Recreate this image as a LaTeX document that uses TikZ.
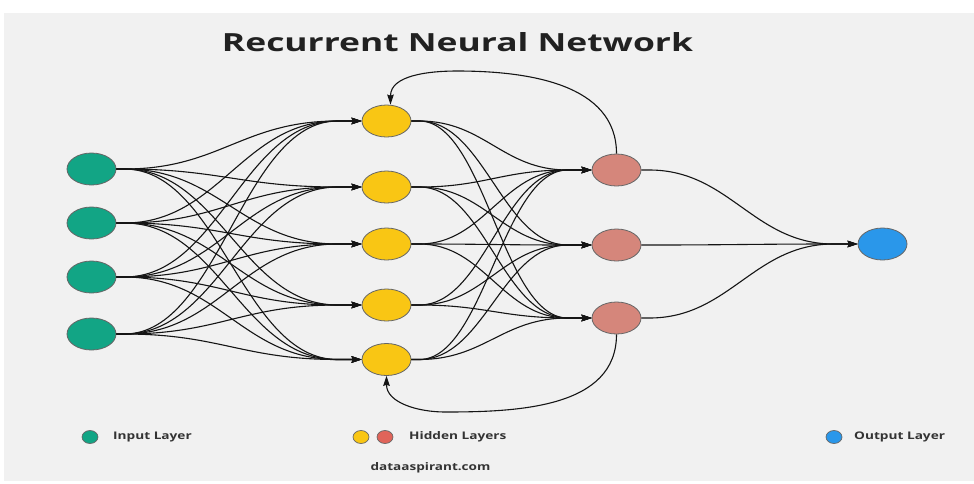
\documentclass[tikz,border=0pt]{standalone}
\usepackage{fontspec}
\setmainfont{Open Sans}
\usetikzlibrary{shapes.geometric,arrows.meta,calc}
\definecolor{bg}{HTML}{F1F1F1}
\definecolor{ingreen}{HTML}{12A585}
\definecolor{hyellow}{HTML}{F9C614}
\definecolor{hred}{HTML}{D5867B}
\definecolor{legred}{HTML}{E0645A}
\definecolor{outblue}{HTML}{2A97EA}
\definecolor{edgecol}{HTML}{151515}
\definecolor{txt}{HTML}{333333}
\newcommand\curveedge[3]{\draw[edge] (#1.east) -- ++(8,0) .. controls +(#3,0) and +(-#3,0) .. ($(#2.west)+(-24,0)$) -- (#2.west);}
\newcommand\wide[2]{\scalebox{#1}[1]{#2}}
\begin{document}
\begin{tikzpicture}[x=1pt,y=-1pt,
 neuron/.style={ellipse, draw=black!60, line width=0.8pt, minimum width=49pt, minimum height=32pt, inner sep=0pt},
 legdot/.style={ellipse, draw=black!60, line width=0.7pt, minimum width=16pt, minimum height=13pt, inner sep=0pt},
 edge/.style={draw=edgecol, line width=1.1pt, -{Stealth[length=10pt,width=6.5pt,inset=1pt]}},
 legtxt/.style={font=\bfseries\fontsize{10.5}{12}\selectfont, text=txt, anchor=west, inner sep=0pt}]
\useasboundingbox (0,0) rectangle (974,483);
\fill[white] (0,0) rectangle (974,483);
\fill[bg] (4,13) rectangle (974,481);

\node[font=\bfseries\fontsize{25}{30}\selectfont, text=black!87] (title) at (457.5,42) {\resizebox{471pt}{\height}{Recurrent Neural Network}};

\node[neuron, fill=ingreen] (i1) at (91.5,169) {};
\node[neuron, fill=ingreen] (i2) at (91.5,223) {};
\node[neuron, fill=ingreen] (i3) at (91.5,277) {};
\node[neuron, fill=ingreen] (i4) at (91.5,334) {};

\node[neuron, fill=hyellow] (h1) at (386.5,121) {};
\node[neuron, fill=hyellow] (h2) at (386.5,187) {};
\node[neuron, fill=hyellow] (h3) at (386.5,244) {};
\node[neuron, fill=hyellow] (h4) at (386.5,305) {};
\node[neuron, fill=hyellow] (h5) at (386.5,359.5) {};

\node[neuron, fill=hred] (r1) at (616.5,170) {};
\node[neuron, fill=hred] (r2) at (616.5,245) {};
\node[neuron, fill=hred] (r3) at (616.5,318) {};

\node[neuron, fill=outblue] (o) at (882.5,244) {};

\foreach \i in {1,...,4}{
  \foreach \h in {1,...,5}{
    \curveedge{i\i}{h\h}{95}
  }
}
\foreach \h in {1,...,5}{
  \foreach \r in {1,...,3}{
    \curveedge{h\h}{r\r}{65}
  }
}
\foreach \r in {1,...,3}{
  \curveedge{r\r}{o}{80}
}

\coordinate (topc) at (457,71);
\coordinate (botc) at (445,412);
\draw[edge] (r1.north) to[out=90,in=0] (topc) to[out=180,in=90] ($(h1.north)+(4,0)$);
\draw[edge] (r3.south) to[out=-90,in=0] (botc) to[out=180,in=-90] (h5.south);

\node[legdot, fill=ingreen] (l1) at (90,437) {};
\node[legtxt] (l1t) at (113,437) {\wide{1.3}{Input Layer}};
\node[legdot, fill=hyellow] (l2) at (361,437) {};
\node[legdot, fill=legred] (l3) at (385,437) {};
\node[legtxt] (l2t) at (409,437) {\wide{1.3}{Hidden Layers}};
\node[legdot, fill=outblue] (l4) at (834,437) {};
\node[legtxt] (l4t) at (854,437) {\wide{1.3}{Output Layer}};
\node[font=\bfseries\fontsize{10.5}{12}\selectfont, text=txt] (src) at (430.5,468) {\wide{1.29}{dataaspirant.com}};
\end{tikzpicture}
\end{document}
